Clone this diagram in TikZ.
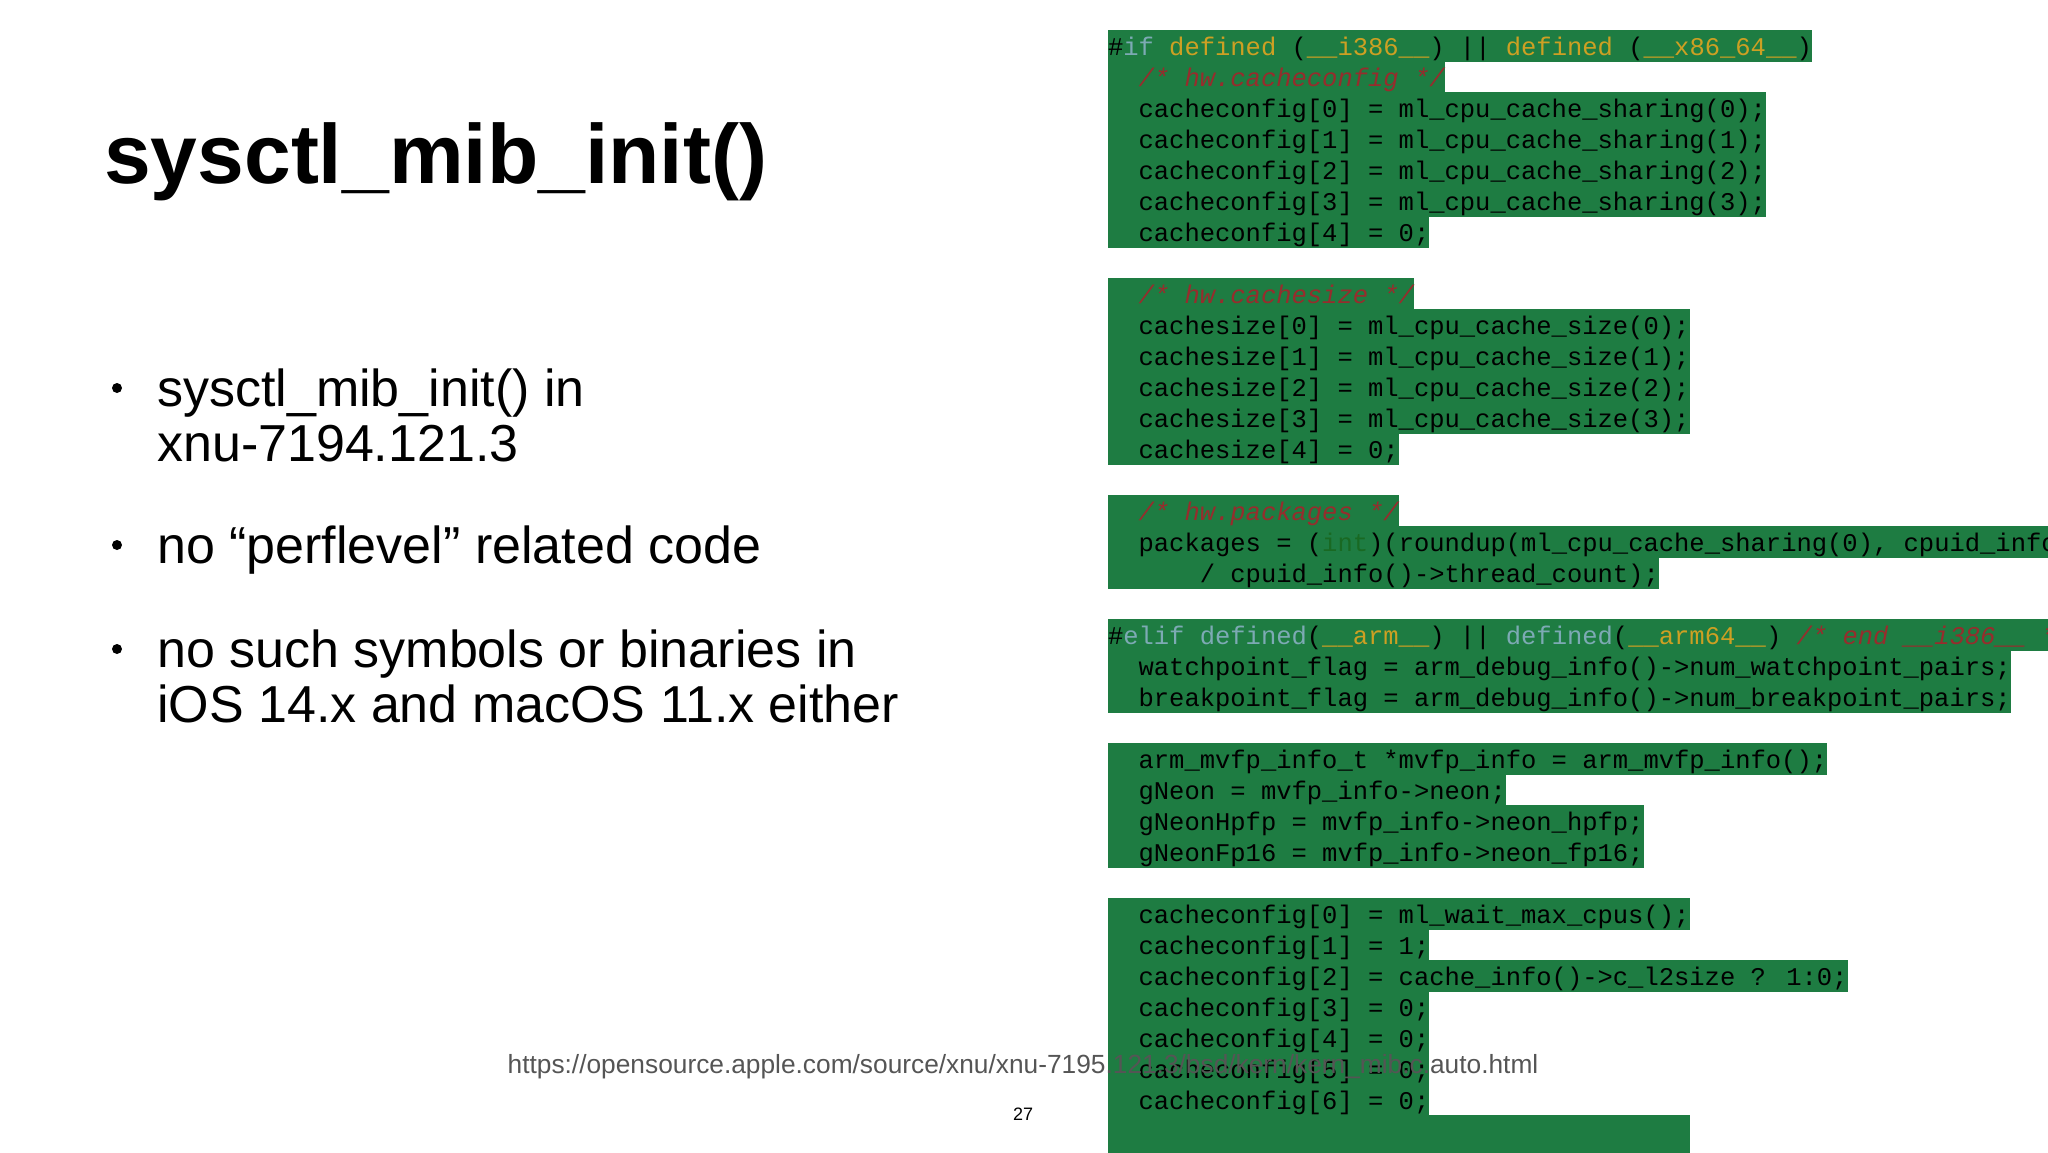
\documentclass[tikz,border=0pt]{standalone}
\usepackage{fontspec}
\setmainfont{Liberation Sans}
\newfontfamily\codefont{Liberation Mono}
\usetikzlibrary{calc,backgrounds}
\definecolor{codegreen}{RGB}{30,124,66}
\definecolor{kwblue}{RGB}{125,170,180}
\definecolor{kwgold}{RGB}{205,160,35}
\definecolor{cmred}{RGB}{150,45,45}
\definecolor{intgreen}{RGB}{25,105,35}
\definecolor{urlgray}{RGB}{85,85,85}
\tikzset{
  code/.style={inner sep=0pt,outer sep=0pt,font=\codefont\fontsize{25.5}{31}\selectfont,text=black},
  bullettext/.style={anchor=base west,inner sep=0pt,font=\fontsize{52}{55}\selectfont},
  bulletdot/.style={circle,fill=black,inner sep=0pt,minimum size=10pt}
}
\newcommand\cm[1]{\textcolor{cmred}{\itshape #1}}
\newcommand\kb[1]{\textcolor{kwblue}{#1}}
\newcommand\kg[1]{\textcolor{kwgold}{#1}}
% #1 row, #2 indent (chars), #3 text
\newcommand\codeln[3]{%
  \node[code,anchor=base west] (c#1) at ({1108+#2*15.3},{46+31*#1+9}) {#3};
  \begin{pgfonlayer}{background}
    \fill[codegreen] let \p1=(c#1.east) in (1108,{46+31*#1-15.8}) rectangle (\x1,{46+31*#1+15.8});
  \end{pgfonlayer}}
\begin{document}
\begin{tikzpicture}[x=1pt,y=-1pt]
\path[use as bounding box,clip] (0,0) rectangle (2048,1152);
% title
\node[anchor=base west,inner sep=0pt,font=\bfseries\fontsize{84}{90}\selectfont] (title) at (104,183) {sysctl\_mib\_init()};
% bullets
\node[bullettext] (b1a) at (157,406) {sysctl\_mib\_init() in};
\node[bullettext] (b1b) at (157,461) {xnu-7194.121.3};
\node[bulletdot] (d1) at (117,388) {};
\node[bullettext] (b2) at (157,563) {no “perflevel” related code};
\node[bulletdot] (d2) at (117,545) {};
\node[bullettext] (b3a) at (157,667) {no such symbols or binaries in};
\node[bullettext] (b3b) at (157,722) {iOS 14.x and macOS 11.x either};
\node[bulletdot] (d3) at (117,649) {};
% code
\codeln{0}{0}{\#\kb{if} \kg{defined} (\kg{\_\_i386\_\_}) || \kg{defined} (\kg{\_\_x86\_64\_\_})}
\codeln{1}{2}{\cm{/* hw.cacheconfig */}}
\codeln{2}{2}{cacheconfig[0] = ml\_cpu\_cache\_sharing(0);}
\codeln{3}{2}{cacheconfig[1] = ml\_cpu\_cache\_sharing(1);}
\codeln{4}{2}{cacheconfig[2] = ml\_cpu\_cache\_sharing(2);}
\codeln{5}{2}{cacheconfig[3] = ml\_cpu\_cache\_sharing(3);}
\codeln{6}{2}{cacheconfig[4] = 0;}
\codeln{8}{2}{\cm{/* hw.cachesize */}}
\codeln{9}{2}{cachesize[0] = ml\_cpu\_cache\_size(0);}
\codeln{10}{2}{cachesize[1] = ml\_cpu\_cache\_size(1);}
\codeln{11}{2}{cachesize[2] = ml\_cpu\_cache\_size(2);}
\codeln{12}{2}{cachesize[3] = ml\_cpu\_cache\_size(3);}
\codeln{13}{2}{cachesize[4] = 0;}
\codeln{15}{2}{\cm{/* hw.packages */}}
\codeln{16}{2}{packages = (\textcolor{intgreen}{int})(roundup(ml\_cpu\_cache\_sharing(0), cpuid\_info()->thread\_count)}
\codeln{17}{6}{/ cpuid\_info()->thread\_count);}
\codeln{19}{0}{\#\kb{elif defined}(\kg{\_\_arm\_\_}) || \kb{defined}(\kg{\_\_arm64\_\_}) \cm{/* end \_\_i386\_\_ */}}
\codeln{20}{2}{watchpoint\_flag = arm\_debug\_info()->num\_watchpoint\_pairs;}
\codeln{21}{2}{breakpoint\_flag = arm\_debug\_info()->num\_breakpoint\_pairs;}
\codeln{23}{2}{arm\_mvfp\_info\_t *mvfp\_info = arm\_mvfp\_info();}
\codeln{24}{2}{gNeon = mvfp\_info->neon;}
\codeln{25}{2}{gNeonHpfp = mvfp\_info->neon\_hpfp;}
\codeln{26}{2}{gNeonFp16 = mvfp\_info->neon\_fp16;}
\codeln{28}{2}{cacheconfig[0] = ml\_wait\_max\_cpus();}
\codeln{29}{2}{cacheconfig[1] = 1;}
\codeln{30}{2}{cacheconfig[2] = cache\_info()->c\_l2size ? 1:0;}
\codeln{31}{2}{cacheconfig[3] = 0;}
\codeln{32}{2}{cacheconfig[4] = 0;}
\codeln{33}{2}{cacheconfig[5] = 0;}
\codeln{34}{2}{cacheconfig[6] = 0;}
\fill[codegreen] (1108,1115.2) rectangle (1690,1160);
% url and page
\node[inner sep=0pt,font=\fontsize{26.3}{28}\selectfont,text=urlgray] (url) at (1023,1067) {https://opensource.apple.com/source/xnu/xnu-7195.121.3/bsd/kern/kern\_mib.c.auto.html};
\node[inner sep=0pt,font=\fontsize{18}{20}\selectfont] (page) at (1023,1114) {27};
\end{tikzpicture}
\end{document}
